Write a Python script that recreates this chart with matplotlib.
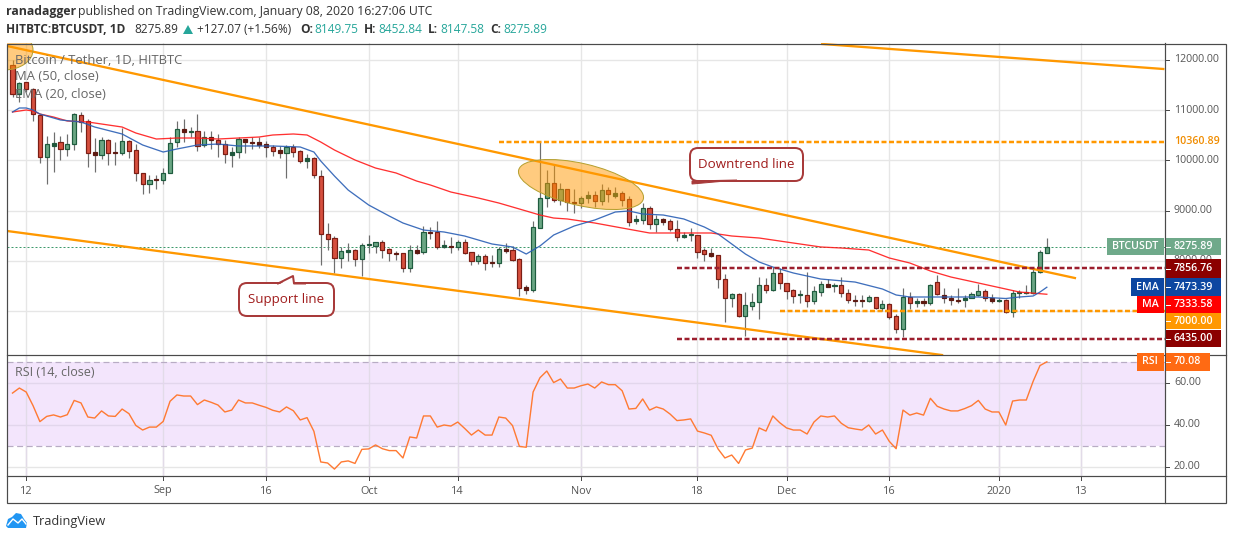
import matplotlib
matplotlib.use("Agg")
import matplotlib.pyplot as plt
from matplotlib.patches import Rectangle, Ellipse, FancyBboxPatch, Polygon

W, H = 1234, 540
plt.rcParams['font.family'] = ['Open Sans', 'DejaVu Sans']

opens = [11900,11323,11562,11422,10904,10068,10287,10367,10227,10327,10904,10785,10167,10107,10406,10167,10147,10386,10207,9749,
 9530,9609,9600,9749,10366,10625,10570,10585,10307,10466,10406,10327,10107,10167,10426,10366,10366,10327,10267,10207,
 10147,10267,10187,9988,10048,9689,8534,8454,8056,8175,8215,8036,8310,8295,8374,8235,8155,8155,7857,8215,
 8175,8574,8574,8275,8295,8275,8374,8175,7996,8095,7976,7956,8235,8215,8036,7478,7418,8653,9251,9550,
 9211,9430,9171,9151,9251,9311,9191,9410,9291,9351,9231,8793,8813,9052,8733,8833,8793,8633,8474,8505,
 8514,8215,8155,8115,7637,7259,7339,6900,7099,7179,7518,7418,7757,7557,7418,7310,7319,7199,7378,7538,
 7495,7518,7358,7219,7219,7199,7279,7060,7139,6900,6641,7279,7159,7199,7159,7577,7319,7259,7219,7219,
 7259,7319,7398,7259,7205,7219,6980,7365,7350,7358,7777,8149.75]
highs = [12000,11562,11562,11442,10904,10486,10566,10486,10526,10944,10964,10824,10446,10466,10426,10366,10645,10406,10326,9749,
 9709,9709,9848,10466,10785,10824,10665,10924,10585,10585,10526,10406,10267,10466,10426,10466,10466,10386,10307,10287,
 10307,10326,10207,10127,10068,9809,8753,8494,8275,8355,8235,8355,8514,8374,8414,8255,8195,8155,8315,8315,
 8693,8673,8793,8414,8474,8414,8434,8175,8135,8135,8115,8275,8355,8295,8056,7518,8793,10366,9809,9928,
 9550,9430,9430,9291,9390,9390,9530,9470,9470,9390,9291,8912,9151,9092,8912,8852,8833,8813,8574,8653,
 8514,8255,8255,8115,7737,7358,7358,7378,7358,7677,7657,7876,7856,7557,7438,7418,7777,7498,7597,7637,
 7558,7677,7438,7319,7319,7319,7279,7219,7159,6940,7458,7378,7259,7259,7538,7717,7458,7319,7458,7319,
 7378,7538,7438,7339,7259,7239,7418,7418,7518,7876,8215,8452.84]
lows = [11263,11163,11362,10785,9948,9530,9769,10008,10088,10207,10565,9868,9769,10028,9908,9908,10107,10048,9589,9331,
 9351,9430,9530,9749,10267,10366,10466,10187,10267,10227,10068,9948,9868,10048,10147,10227,10247,10068,10088,10048,
 9649,10068,9948,9848,9649,7916,8215,7757,7857,7996,7896,7697,8155,8155,8056,7996,8016,7777,7777,8135,
 8135,8434,8235,8255,8155,8215,8135,7916,7936,7817,7876,7876,8155,7996,7299,7339,7378,8653,9072,9171,
 9111,8992,8952,9052,9151,9072,9111,9171,9251,9092,8693,8733,8733,8633,8573,8713,8593,8394,8454,8394,
 8056,7996,8076,7458,6781,7080,6880,6502,7020,6840,7358,7398,7438,7239,7159,7159,7080,7139,7299,7478,
 7378,7279,7159,7099,7080,7179,7040,7000,6840,6561,6482,7040,7080,7099,7119,7319,7159,7119,7159,7080,
 7259,7299,7199,7159,7179,6960,6880,7259,7339,7339,7757,8147.58]
closes = [11323,11542,11422,10924,10068,10327,10347,10227,10327,10924,10765,10147,10107,10406,10147,10147,10386,10187,9749,9530,
 9609,9600,9749,10346,10625,10565,10590,10287,10466,10406,10327,10127,10167,10426,10366,10350,10307,10267,10187,10147,
 10267,10167,9988,10048,9709,8534,8434,8056,8195,8215,8036,8315,8325,8374,8215,8155,8140,7857,8215,8155,
 8574,8560,8275,8315,8280,8374,8155,7996,8095,7956,7960,8235,8195,8016,7458,7418,8673,9251,9550,9211,
 9430,9171,9155,9251,9311,9191,9410,9331,9351,9211,8773,8833,9052,8733,8833,8773,8633,8474,8514,8520,
 8175,8135,8095,7637,7259,7339,6900,7119,7179,7518,7418,7757,7557,7398,7299,7325,7199,7398,7538,7478,
 7510,7358,7219,7205,7205,7279,7060,7139,6880,6641,7279,7159,7199,7159,7518,7338,7259,7219,7205,7259,
 7339,7398,7259,7199,7219,6980,7358,7378,7358,7777,8175,8275.89]

ema_idx = [0,1,2,3,4,7,10,12,16,19,22,24,27,30,33,38,42,44,45,47,49,52,55,57,60,63,66,70,73,75,77,79,82,85,88,90,92,95,98,
           101,103,105,107,109,111,114,118,123,127,129,131,136,141,145,147,149,150,151]
ema_val = [10964,11044,11044,11004,10924,10805,10765,10665,10526,10307,10167,10227,10307,10326,10287,10287,10267,10167,9988,9689,
           9410,9111,8892,8753,8613,8574,8494,8335,8275,8135,8295,8514,8693,8813,8972,8992,8932,8912,8833,
           8673,8534,8335,8135,7976,7876,7757,7637,7577,7438,7319,7279,7279,7279,7249,7279,7299,7378,7473.39]
ma_idx = [0,2,3,4,6,8,11,14,16,18,21,24,27,30,33,36,38,41,43,45,47,50,53,56,59,61,64,68,71,74,77,79,81,85,89,93,96,98,102,
          105,109,113,118,121,125,128,131,134,137,141,145,147,151]
ma_val = [10964,11004,10984,10924,10864,10785,10765,10705,10665,10546,10426,10446,10446,10426,10446,10466,10506,10526,10506,10366,
          10207,10008,9848,9749,9589,9510,9370,9251,9151,9032,8912,8852,8833,8753,8653,8554,8554,8554,8554,
          8494,8454,8374,8275,8255,8215,8056,7956,7797,7677,7558,7438,7378,7333.58]

rsi = [55.2,57.6,55.7,49.2,41.6,44.1,44.8,43.8,44.9,51.7,50.5,43.8,43.3,46.7,44.3,44.1,47.6,45.4,39.8,37.6,
 39.0,39.0,41.7,51.3,54.3,53.8,53.8,49.7,51.9,50.8,49.5,46.2,47.1,51.9,50.5,50.5,49.4,48.4,47.0,46.2,
 48.6,46.8,42.4,43.5,37.0,22.4,21.9,19.0,22.4,22.9,21.7,28.4,28.6,30.5,28.7,27.8,27.8,24.3,34.3,33.8,
 44.3,44.3,39.0,40.0,39.5,41.4,38.4,35.2,37.6,35.2,35.2,43.8,43.3,39.7,29.8,29.4,55.7,62.5,65.7,60.2,
 61.9,57.6,57.6,58.7,59.5,57.6,60.5,59.2,59.2,56.3,47.6,47.9,52.4,47.1,48.6,47.6,45.2,42.1,42.4,42.9,
 37.1,36.2,35.1,28.6,24.3,25.7,21.7,28.1,29.0,38.6,37.1,44.3,41.1,38.6,37.6,37.6,35.7,41.4,44.3,43.8,
 44.3,40.8,38.7,38.1,37.6,40.0,35.7,37.6,32.2,28.7,47.1,44.7,45.7,44.7,52.7,48.9,47.6,46.7,46.7,47.8,
 49.2,51.7,47.6,46.2,46.2,40.0,51.4,51.9,51.9,60.8,68.3,70.08]

time_ticks = [2,22,37,52,65,83,100,113,128,144,156]
time_labels = ['12','Sep','16','Oct','14','Nov','18','Dec','16','2020','13']
price_ticks = [12000,11000,10000,9000,8000,7000]
price_labelled = [12000,11000,10000,9000,8000]
rsi_ticks = [60,40,20]

upper_x, upper_y = [-0.8,155.1], [12279,7657]
lower_x, lower_y = [-0.8,135.7], [8594,6123]
top_x, top_y = [118.2,168], [12319,11821]
res_x, res_y = [71,168.3], [10360.89,10360.89]
lvl1_x, lvl1_y = [97,168.3], [7856.76,7856.76]
lvl2_x, lvl2_y = [112,168.3], [7000,7000]
lvl3_x, lvl3_y = [97,168.3], [6435,6435]
last_price = 8275.89

GRID = '#e6e6e6'; ORANGE = '#ff9800'; DARK = '#4a4a4a'; TXT = '#555555'
UP_F, UP_E, UP_S = '#6aa684', '#1f5c3f', '#20573c'
DN_F, DN_E, DN_S = '#d64f3e', '#7b1e15', '#5e1a12'
WICK = '#6e6e6e'
PX = 0.72

fig = plt.figure(figsize=(W/100, H/100), dpi=100, facecolor='white')
def axes_px(l, t, r, b):
    return fig.add_axes([l/W, 1-b/H, (r-l)/W, (b-t)/H])

ax = axes_px(7, 43, 1165, 355)
ax.set_xlim(-0.803, 168.25); ax.set_ylim(6123.6, 12338.6)
rx = axes_px(7, 355, 1165, 476)
rx.set_xlim(-0.803, 168.25); rx.set_ylim(15.71, 73.33)
for a in (ax, rx):
    for s in a.spines.values():
        s.set_visible(False)
    a.set_xticks([]); a.set_yticks([])
    for t in time_ticks:
        a.axvline(t, color=GRID, lw=1.4*PX, zorder=0)
for p in price_ticks:
    ax.axhline(p, color=GRID, lw=1.4*PX, zorder=0)

# candles
xs = list(range(len(opens)))
ax.vlines(xs, lows, highs, color=WICK, lw=1.2*PX, zorder=3)
for i, (o, c) in enumerate(zip(opens, closes)):
    up = c >= o
    small = abs(c-o) < 75
    fc = (UP_S if up else DN_S) if small else (UP_F if up else DN_F)
    ec = (UP_S if up else DN_S) if small else (UP_E if up else DN_E)
    ax.bar(i, max(abs(c-o), 20), bottom=min(o, c), width=0.6, color=fc, edgecolor=ec, lw=1.2*PX, zorder=4)

ax.plot(ma_idx, ma_val, color='#ff1a1a', lw=1.3*PX, zorder=5, alpha=0.9)
ax.plot(ema_idx, ema_val, color='#2a5fb5', lw=1.3*PX, zorder=5, alpha=0.9)

ax.plot(upper_x, upper_y, color=ORANGE, lw=2.3*PX, zorder=6)
ax.plot(lower_x, lower_y, color=ORANGE, lw=2.3*PX, zorder=6)
ax.plot(top_x, top_y, color=ORANGE, lw=2.3*PX, zorder=6)
ax.plot(res_x, res_y, color=ORANGE, lw=2.5*PX, ls=(0, (2, 1)), zorder=6)
ax.plot(lvl2_x, lvl2_y, color=ORANGE, lw=2.5*PX, ls=(0, (2, 1)), zorder=6)
ax.plot(lvl1_x, lvl1_y, color='#9c1f2e', lw=2.5*PX, ls=(0, (2, 1)), zorder=6)
ax.plot(lvl3_x, lvl3_y, color='#9c1f2e', lw=2.5*PX, ls=(0, (2, 1)), zorder=6)
ax.axhline(last_price, color='#3f9a6c', lw=1*PX, ls=(0, (2, 2)), zorder=2)

# RSI
rx.axhspan(30, 70, color='#f3e5fc', lw=0, zorder=0.5)
for t in time_ticks:
    rx.axvline(t, color='#e2dbe8', lw=1.4*PX, zorder=1)
for v in rsi_ticks:
    rx.axhline(v, color='#e2d6ec' if v > 30 else GRID, lw=1.4*PX, zorder=1)
for v in (70, 30):
    rx.axhline(v, color='#b8acc4', lw=1.2*PX, ls=(0, (5, 3)), zorder=2)
rx.plot(range(len(rsi)), rsi, color='#ff7a33', lw=1.4*PX, zorder=4)

# overlay in pixel coords
ov = fig.add_axes([0, 0, 1, 1], facecolor='none')
ov.set_xlim(0, W); ov.set_ylim(H, 0); ov.axis('off')
ov.set_zorder(10)

def T(x, y, s, **k):
    k.setdefault('va', 'center'); k.setdefault('ha', 'left')
    k.setdefault('fontsize', 8.6); k.setdefault('color', '#333333')
    return ov.text(x, y, s, **k)

# header
T(6, 12, 'ranadagger', fontweight='bold', fontsize=8.8)
T(78, 12, 'published on TradingView.com, January 08, 2020 16:27:06 UTC', fontsize=8.8)
T(6, 29.5, 'HITBTC:BTCUSDT, 1D', fontweight='bold', fontsize=8.6)
T(134, 29.5, '8275.89')
ov.add_patch(Polygon([[183, 34], [193, 34], [188, 25]], color='#26a69a', lw=0))
T(197, 29.5, '+127.07 (+1.56%)')
for x, s in zip((300, 364, 428, 490), ('O:', 'H:', 'L:', 'C:')):
    T(x, 29.5, s, fontweight='bold')
for x, s in zip((314, 378, 440, 503), ('8149.75', '8452.84', '8147.58', '8275.89')):
    T(x, 29.5, s, color='#26a69a')

# legends
T(15, 60, 'Bitcoin / Tether, 1D, HITBTC', color='#666666', fontsize=9.4)
T(15, 77, 'MA (50, close)', color='#666666', fontsize=9.4)
T(15, 94, 'EMA (20, close)', color='#666666', fontsize=9.4)
T(15, 372.5, 'RSI (14, close)', color='#666666', fontsize=9)

# ellipses (clipped to chart pane)
e1 = Ellipse((581, 184.5), 128, 42, angle=13, facecolor=(1, 0.6, 0, 0.5), edgecolor='#b5a030', lw=1*PX)
ov.add_patch(e1)
e2 = Ellipse((4, 50), 58, 40, angle=0, facecolor=(1, 0.6, 0, 0.5), edgecolor='#b5a030', lw=1*PX)
ov.add_patch(e2)
e2.set_clip_path(Rectangle((7, 43), 1158, 312, transform=ov.transData))

# callouts
EC = '#a83a3a'
def callout(x0, y0, x1, y1, txt, fs=9.6):
    ov.add_patch(FancyBboxPatch((x0+7, y0+7), x1-x0-14, y1-y0-14, boxstyle='round,pad=7,rounding_size=8',
                                fc='white', ec=EC, lw=2*PX, zorder=7))
    T((x0+x1)/2, (y0+y1)/2, txt, ha='center', color='#a01c1c', fontsize=fs, zorder=8)
callout(690, 148, 803, 181, 'Downtrend line')
ov.add_patch(Polygon([[692, 181], [737, 180], [692, 184]], fc='#a83a3a', ec=EC, lw=1*PX, zorder=8))
callout(239, 283, 334, 316, 'Support line')
ov.add_patch(Polygon([[280, 284], [293, 276], [294, 284]], fc='white', ec='none', zorder=8))
ov.plot([278, 293, 294, 305], [283.5, 276, 283.5, 283.5], color=EC, lw=2*PX, zorder=8)

# frame
ov.add_patch(Rectangle((6.5, 43.5), 1219, 459, fc='none', ec=DARK, lw=1.2*PX))
ov.plot([1165, 1165], [43, 503], color=DARK, lw=1.2*PX)
ov.plot([6.5, 1225.5], [355, 355], color=DARK, lw=1.2*PX)
ov.plot([6.5, 1225.5], [476, 476], color=DARK, lw=1.2*PX)

# axes labels
for p in price_ticks:
    y = H - ax.transData.transform((0, p))[1]
    ov.plot([1165, 1169], [y, y], color=DARK, lw=1*PX)
for p in price_labelled:
    y = H - ax.transData.transform((0, p))[1]
    T(1174, y, f'{p:.2f}', color=TXT, fontsize=7.7)
for v in rsi_ticks:
    y = H - rx.transData.transform((0, v))[1]
    ov.plot([1165, 1169], [y, y], color=DARK, lw=1*PX)
    T(1174, y, f'{v:.2f}', color=TXT, fontsize=7.7)
for t, s in zip(time_ticks, time_labels):
    x = ax.transData.transform((t, 0))[0]
    ov.plot([x, x], [476, 480], color=DARK, lw=1*PX)
    T(x, 491, s, ha='center', color=TXT, fontsize=7.8)

# level labels
def tag(y0, y1, val, col, x1=1221):
    ov.add_patch(Rectangle((1166, y0), x1-1166, y1-y0, fc=col, ec='none', zorder=3))
    ov.plot([1166, 1170], [(y0+y1)/2]*2, color='white', lw=1*PX, zorder=4)
    T(1174, (y0+y1)/2, val, color='white', fontsize=7.7, zorder=4, fontweight='semibold')
def ltag(x0, y0, y1, s, col):
    ov.add_patch(Rectangle((x0, y0), 1163.5-x0, y1-y0, fc=col, ec='none', zorder=3))
    T((x0+1163.5)/2, (y0+y1)/2, s, ha='center', color='white', fontsize=7.7, zorder=4, fontweight='semibold')
T(1174, 142, '10360.89', color='#f08c00', fontsize=7.7, fontweight='semibold')
tag(238, 255, '8275.89', '#6fa98a'); ltag(1107, 238, 255, 'BTCUSDT', '#6fa98a')
tag(259, 278, '7856.76', '#8b0000')
tag(278, 296, '7473.39', '#0d47a1'); ltag(1131, 278, 296, 'EMA', '#0d47a1')
tag(296, 313, '7333.58', '#ff0000'); ltag(1137, 296, 313, 'MA', '#ff0000')
tag(313, 329, '7000.00', ORANGE)
tag(330, 347, '6435.00', '#8b0000')
tag(353, 371, '70.08', '#ff6a13', x1=1210); ltag(1137, 353, 371, 'RSI', '#ff6a13')

# logo
ov.add_patch(Polygon([[6, 526], [8, 519], [12, 517], [16, 513], [21, 514], [24, 519], [27, 523], [26, 528], [8, 528]],
                     fc='#2196f3', ec='none'))
ov.plot([8, 13, 18, 22, 26], [525, 519, 523, 519, 524], color='white', lw=1.4*PX)
T(33, 521, 'TradingView', color='#333333', fontsize=9.2)

fig.savefig('out.png', dpi=100, facecolor='white')
